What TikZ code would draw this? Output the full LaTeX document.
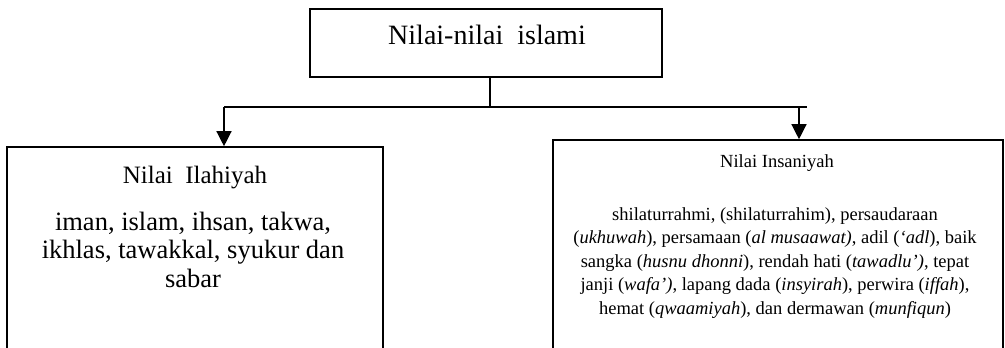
\documentclass[tikz,border=0pt]{standalone}
\usepackage{fontspec}
\setmainfont{Liberation Serif}
\usetikzlibrary{arrows.meta}
\begin{document}
\begin{tikzpicture}[x=1pt,y=-1pt,
  box/.style={draw,line width=1.6pt,rectangle,inner sep=0pt},
  link/.style={line width=1.3pt},
  arr/.style={link,-{Triangle[width=15pt,length=15pt]}},
  label/.style={inner sep=0pt,anchor=base,align=center}]
\useasboundingbox (0,0) rectangle (1005,348);
\clip (0,0) rectangle (1005,348);

% boxes
\node[box,minimum width=352pt,minimum height=68pt] (top) at (486,43) {};
\node[box,minimum width=376pt,minimum height=230pt] (lbox) at (195,262) {};
\node[box,minimum width=450pt,minimum height=240pt] (rbox) at (778,260) {};

% texts (multi-line labels are placed by the baseline of their last line)
\node[label,font=\fontsize{28}{34}\selectfont] (ttl) at (487,45) {Nilai-nilai\ \ islami};
\node[label,font=\fontsize{25}{30}\selectfont] (lttl) at (195,183) {Nilai\ \ Ilahiyah};
\node[label,font=\fontsize{26.5}{28.5}\selectfont] (ltxt) at (193,287)
  {iman, islam, ihsan, takwa,\\ikhlas, tawakkal, syukur dan\\sabar};
\node[label,font=\fontsize{18.5}{23}\selectfont] (rttl) at (777,167) {Nilai Insaniyah};
\node[label,font=\fontsize{18.5}{23.5}\selectfont] (rtxt) at (775,314)
  {shilaturrahmi, (shilaturrahim), persaudaraan\\
   (\textit{ukhuwah}), persamaan (\textit{al musaawat)}, adil (\textit{‘adl}), baik\\
   sangka (\textit{husnu dhonni}), rendah hati (\textit{tawadlu')}, tepat\\
   janji (\textit{wafa')}, lapang dada (\textit{insyirah}), perwira (\textit{iffah}),\\
   hemat (\textit{qwaamiyah}), dan dermawan (\textit{munfiqun})};

% connectors
\coordinate (jm) at (490,107);
\coordinate (jl) at (224,107);
\coordinate (jr) at (799,107);
\coordinate (je) at (807,107);
\draw[link] (top.south -| jm) -- (jm);
\draw[link] (jl) -- (je);
\draw[arr] (jl) -- (jl |- lbox.north);
\draw[arr] (jr) -- (jr |- rbox.north);
\end{tikzpicture}
\end{document}
